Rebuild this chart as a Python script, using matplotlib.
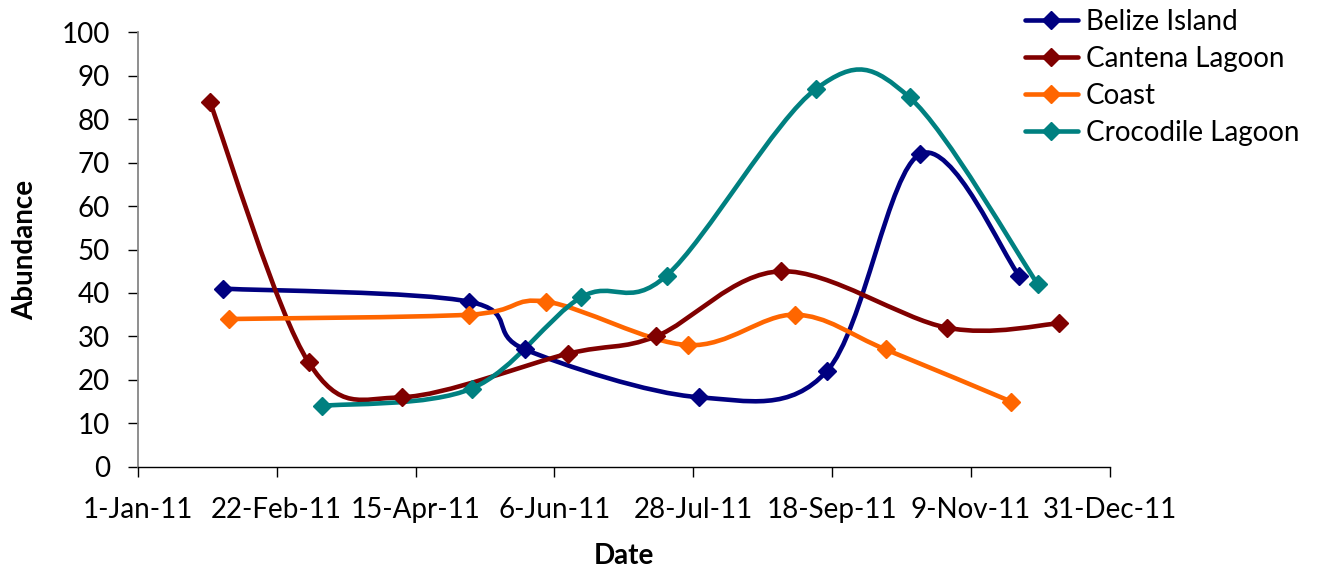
import datetime as dt
import numpy as np
import matplotlib
matplotlib.use("Agg")
import matplotlib.pyplot as plt
import matplotlib.dates as mdates
from matplotlib.path import Path
from matplotlib.patches import PathPatch
from matplotlib.lines import Line2D

plt.rcParams['font.family'] = ['Lato', 'DejaVu Sans']

# Sampling dates and abundance per site
belize_dates = ["2011-02-02", "2011-05-05", "2011-05-26", "2011-07-30",
                "2011-09-16", "2011-10-21", "2011-11-27"]
belize_vals = [41, 38, 27, 16, 22, 72, 44]

cantena_dates = ["2011-01-28", "2011-03-06", "2011-04-10", "2011-06-11",
                 "2011-07-14", "2011-08-30", "2011-10-31", "2011-12-12"]
cantena_vals = [84, 24, 16, 26, 30, 45, 32, 33]

coast_dates = ["2011-02-04", "2011-05-05", "2011-06-03", "2011-07-26",
               "2011-09-04", "2011-10-08", "2011-11-24"]
coast_vals = [34, 35, 38, 28, 35, 27, 15]

croc_dates = ["2011-03-11", "2011-05-06", "2011-06-16", "2011-07-18",
              "2011-09-12", "2011-10-17", "2011-12-04"]
croc_vals = [14, 18, 39, 44, 87, 85, 42]

series_names = ["Belize Island", "Cantena Lagoon", "Coast", "Crocodile Lagoon"]
series_colors = ["#000080", "#800000", "#FF6600", "#008080"]

x_start = "2011-01-01"
tick_step_days = 52
n_ticks = 8
y_ticks = list(range(0, 101, 10))

FS = 20


def to_num(dates):
    return mdates.date2num([dt.datetime.strptime(d, "%Y-%m-%d") for d in dates])


def smooth_path(x, y):
    """Catmull-Rom style cubic Bezier through the points."""
    pts = np.column_stack([x, y]).astype(float)
    n = len(pts)
    verts = [pts[0]]
    codes = [Path.MOVETO]
    for i in range(n - 1):
        p0 = pts[i - 1] if i > 0 else pts[i]
        p1 = pts[i]
        p2 = pts[i + 1]
        p3 = pts[i + 2] if i + 2 < n else pts[i + 1]
        c1 = p1 + (p2 - p0) / 6.0
        c2 = p2 - (p3 - p1) / 6.0
        verts += [c1, c2, p2]
        codes += [Path.CURVE4] * 3
    return Path(verts, codes)


fig = plt.figure(figsize=(13.22, 5.68), dpi=100)
ax = fig.add_axes([0.1042, 0.1783, 0.7354, 0.7648])

all_series = [
    (belize_dates, belize_vals),
    (cantena_dates, cantena_vals),
    (coast_dates, coast_vals),
    (croc_dates, croc_vals),
]

handles = []
for (dates, vals), name, color in zip(all_series, series_names, series_colors):
    xn = to_num(dates)
    patch = PathPatch(smooth_path(xn, vals), facecolor="none", edgecolor=color,
                      lw=3.3, capstyle="round", joinstyle="round", zorder=3)
    ax.add_patch(patch)
    ax.plot(xn, vals, linestyle="none", marker="D", markersize=9.5,
            color=color, zorder=4)
    handles.append(Line2D([0], [0], color=color, lw=3.3, marker="D",
                          markersize=9.5, solid_capstyle="round"))

x0 = mdates.date2num(dt.datetime.strptime(x_start, "%Y-%m-%d"))
xticks = [x0 + tick_step_days * k for k in range(n_ticks)]
ax.set_xlim(xticks[0], xticks[-1])
ax.set_ylim(0, 100)
ax.set_xticks(xticks)
ax.set_yticks(y_ticks)


def fmt_date(v, pos=None):
    d = mdates.num2date(v)
    return f"{d.day}-{d.strftime('%b-%y')}"


ax.xaxis.set_major_formatter(plt.FuncFormatter(fmt_date))
ax.tick_params(axis="both", direction="out", length=7, width=1.0,
               labelsize=FS, colors="black")
ax.tick_params(axis="x", pad=15)
ax.tick_params(axis="y", pad=13)

for side in ("top", "right"):
    ax.spines[side].set_visible(False)
ax.spines["left"].set_color("#868686")
ax.spines["left"].set_linewidth(1.3)
ax.spines["bottom"].set_color("#000000")
ax.spines["bottom"].set_linewidth(1.0)

ax.set_xlabel("Date", fontsize=FS, fontweight="bold", labelpad=14)
ax.set_ylabel("Abundance", fontsize=FS, fontweight="bold", labelpad=17)

fig.legend(handles, series_names, loc="upper left",
           bbox_to_anchor=(1025 / 1322, 1.0 - 9 / 568), frameon=False,
           fontsize=FS, borderpad=0, borderaxespad=0,
           handlelength=1.9, handletextpad=0.3, labelspacing=0.39)

fig.savefig("out.png", dpi=100)
